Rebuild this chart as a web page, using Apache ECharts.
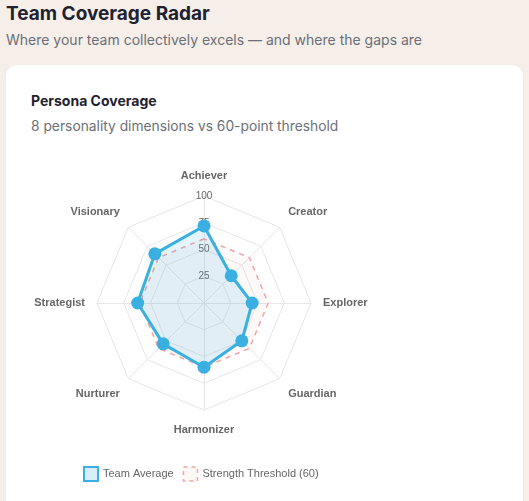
<!DOCTYPE html>
<html><head><meta charset="utf-8">
<script src="https://cdn.jsdelivr.net/npm/echarts@6/dist/echarts.min.js"></script>
<style>
html,body{margin:0;padding:0;width:529px;height:501px;overflow:hidden;background:#f5eee9;font-family:Inter,"Noto Sans",sans-serif;}
#h1{position:absolute;left:6px;top:2px;font-size:19px;font-weight:700;color:#1e2230;}
#h2{position:absolute;left:6px;top:31px;font-size:14px;color:#6b6f78;}
#card{position:absolute;left:6px;top:65px;width:517px;height:460px;background:#fff;border-radius:11px;box-shadow:0 1px 3px rgba(0,0,0,0.06);}
#t1{position:absolute;left:31px;top:92px;font-size:14px;font-weight:700;color:#1e2230;}
#t2{position:absolute;left:31px;top:118px;font-size:13.8px;color:#6b6f78;}
#chart{position:absolute;left:0;top:0;width:529px;height:501px;}
</style></head>
<body>
<div id="h1">Team Coverage Radar</div>
<div id="h2">Where your team collectively excels — and where the gaps are</div>
<div id="card"></div>
<div id="t1">Persona Coverage</div>
<div id="t2">8 personality dimensions vs 60-point threshold</div>
<div id="chart"></div>
<script>
// Dimensions in clockwise order starting at top
const categories = ['Achiever','Creator','Explorer','Guardian','Harmonizer','Nurturer','Strategist','Visionary'];
const teamAverage = [72, 36, 45, 50, 60, 54, 62, 65];
const threshold = [60, 60, 60, 60, 60, 60, 60, 60];
const seriesNames = ['Team Average', 'Strength Threshold (60)'];
const axisMax = 100;

// ECharts radar runs counter-clockwise; reorder so that the picture runs clockwise
function ccw(arr){ return [arr[0]].concat(arr.slice(1).reverse()); }

const indicators = ccw(categories).map((n, i) => {
  const o = {name: n, max: axisMax, min: 0};
  if (i === 0) o.axisLabel = {show: true};
  return o;
});

const upNames = ['Visionary', 'Creator'];
const downNames = ['Nurturer', 'Guardian'];
const nameFont = {color: '#666', fontSize: 11, fontWeight: 'bold', fontFamily: 'Liberation Sans, Arial, sans-serif'};

const chart = echarts.init(document.getElementById('chart'));
chart.setOption({
  animation: false,
  legend: {
    left: 78, top: 461,
    itemWidth: 14, itemHeight: 14, itemGap: 9,
    textStyle: {fontSize: 11, color: '#666', fontFamily: 'Liberation Sans, Arial, sans-serif'},
    data: [
      {name: seriesNames[0], icon: 'rect', itemStyle: {color: 'rgba(58,176,226,0.2)', borderColor: '#3ab0e2', borderWidth: 2}},
      {name: seriesNames[1], icon: 'rect', itemStyle: {color: 'rgba(244,150,150,0.08)', borderColor: '#f5a3a3', borderWidth: 1.5, borderType: [4,4]}}
    ]
  },
  radar: {
    center: [204, 303],
    radius: 107,
    startAngle: 90,
    shape: 'polygon',
    splitNumber: 4,
    indicator: indicators,
    axisName: Object.assign({}, nameFont, {
      formatter: function (name) {
        if (upNames.indexOf(name) >= 0) return '{n|' + name + '}\n{s|}';
        if (downNames.indexOf(name) >= 0) return '{s|}\n{n|' + name + '}';
        if (name === 'Achiever') return '{n|' + name + '}\n{x|}';
        if (name === 'Harmonizer') return '{y|}\n{n|' + name + '}';
        return name;
      },
      rich: {
        n: Object.assign({lineHeight: 13}, nameFont),
        s: {lineHeight: 13, fontSize: 1},
        x: {lineHeight: 2, fontSize: 1},
        y: {lineHeight: 1, fontSize: 1}
      }
    }),
    nameGap: 12,
    splitLine: {lineStyle: {color: '#e6e6e6', width: 1}},
    axisLine: {lineStyle: {color: '#e6e6e6', width: 1}},
    splitArea: {show: false},
    axisTick: {show: false},
    axisLabel: {show: false, showMinLabel: false, color: '#666', fontSize: 10, margin: 0, align: 'center', verticalAlign: 'middle', rotate: 0, fontFamily: 'Liberation Sans, Arial, sans-serif'}
  },
  series: [{
    type: 'radar',
    z: 3,
    data: [
      {
        name: seriesNames[1],
        value: ccw(threshold),
        symbol: 'none',
        lineStyle: {color: '#f5a3a3', width: 1.5, type: [5,5]},
        itemStyle: {color: '#f5a3a3'},
        areaStyle: {color: 'rgba(244,150,150,0.08)'}
      },
      {
        name: seriesNames[0],
        value: ccw(teamAverage),
        symbol: 'circle',
        symbolSize: 13,
        lineStyle: {color: '#3ab0e2', width: 3},
        itemStyle: {color: '#3ab0e2'},
        areaStyle: {color: 'rgba(58,176,226,0.2)'}
      }
    ]
  }]
});
</script>
</body></html>
